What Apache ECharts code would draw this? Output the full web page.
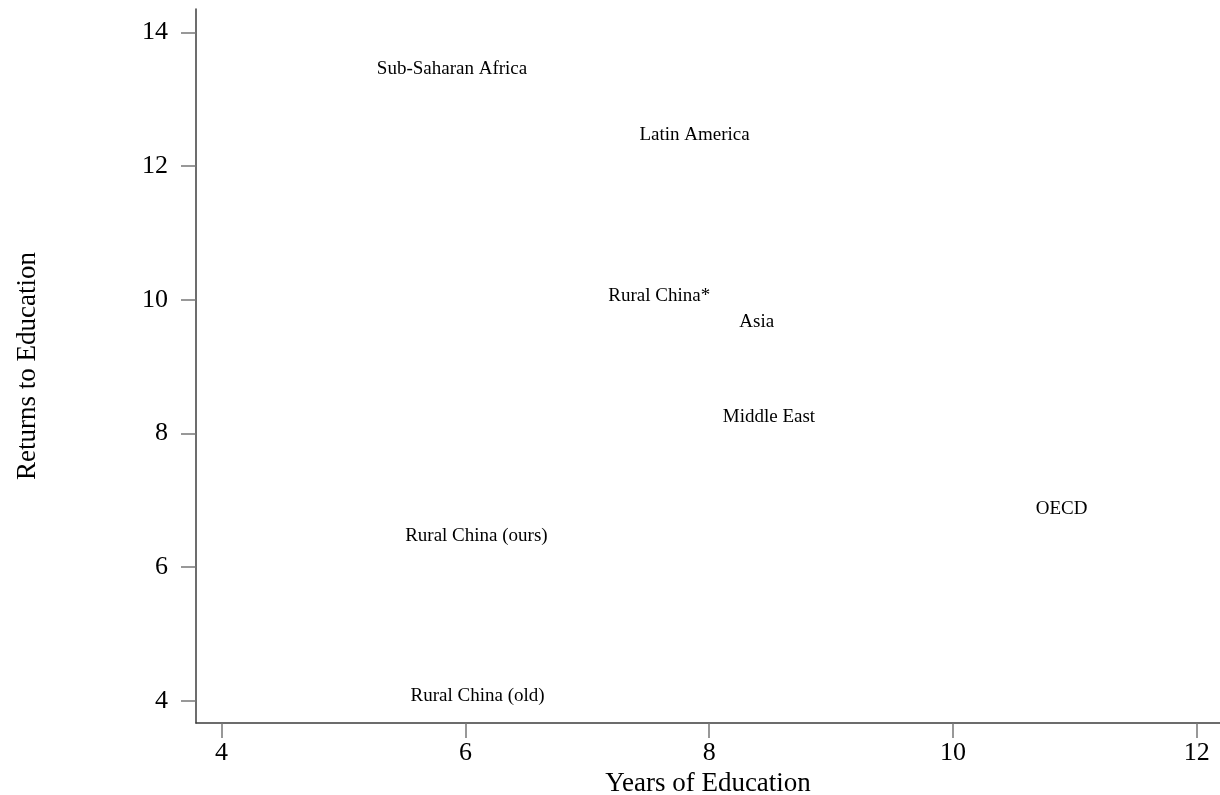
<!DOCTYPE html>
<html>
<head>
<meta charset="utf-8">
<script src="https://cdn.jsdelivr.net/npm/echarts@6/dist/echarts.min.js"></script>
<style>
html,body{margin:0;padding:0;background:#fff;}
#chart{width:1220px;height:795px;}
</style>
</head>
<body>
<div id="chart"></div>
<script>
var regions = ["Sub-Saharan Africa","Latin America","Rural China*","Asia","Middle East","OECD","Rural China (ours)","Rural China (old)"];
var yearsOfEducation = [5.89, 7.88, 7.59, 8.39, 8.49, 10.89, 6.09, 6.10];
var returnsToEducation = [13.48, 12.49, 10.08, 9.69, 8.27, 6.90, 6.49, 4.10];
var xTicks = [4, 6, 8, 10, 12];
var yTicks = [4, 6, 8, 10, 12, 14];

var data = regions.map(function(n, i){ return {name: n, value: [yearsOfEducation[i], returnsToEducation[i]]}; });
var font = '"Liberation Serif","DejaVu Serif",serif';
var chart = echarts.init(document.getElementById('chart'));
chart.setOption({
  animation: false,
  grid: {left: 196, right: 0, top: 9, bottom: 72, containLabel: false, outerBoundsMode: 'none'},
  xAxis: {
    type: 'value', min: 3.79, max: 12.19,
    name: 'Years of Education', nameLocation: 'middle', nameGap: 42,
    nameTextStyle: {fontFamily: font, fontSize: 27, color: '#000'},
    splitLine: {show: false},
    axisLine: {show: true, lineStyle: {color: '#3c3c3c', width: 1.5}},
    axisTick: {show: true, customValues: xTicks, length: 15, lineStyle: {color: '#777', width: 1.5}},
    axisLabel: {customValues: xTicks, margin: 17, fontFamily: font, fontSize: 26, color: '#000'}
  },
  yAxis: {
    type: 'value', min: 3.666, max: 14.35,
    name: 'Returns to Education', nameLocation: 'middle', nameGap: 155,
    nameTextStyle: {fontFamily: font, fontSize: 27, color: '#000'},
    splitLine: {show: false},
    axisLine: {show: true, lineStyle: {color: '#3c3c3c', width: 1.5}},
    axisTick: {show: true, customValues: yTicks, length: 15, lineStyle: {color: '#777', width: 1.5}},
    axisLabel: {customValues: yTicks, margin: 28, fontFamily: font, fontSize: 26, color: '#000', padding: [4, 0, 0, 0]}
  },
  series: [{
    type: 'scatter',
    symbolSize: 0,
    data: data,
    label: {show: true, position: 'inside', offset: [0, 2], formatter: '{b}', fontFamily: font, fontSize: 19, color: '#000', opacity: 1, textBorderWidth: 0}
  }]
});
</script>
</body>
</html>
